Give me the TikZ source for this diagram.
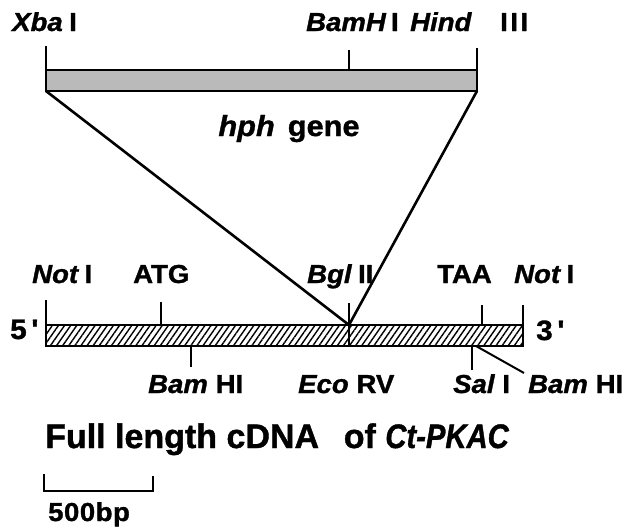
\documentclass[tikz,border=0pt]{standalone}
\usepackage{graphicx}
\usepackage{fontspec}
\setmainfont{Liberation Sans}
\newfontfamily\labfont{Liberation Sans}[FakeStretch=1.06, BoldFeatures={FakeBold=1.2}, BoldItalicFeatures={FakeBold=1.2}]
\newfontfamily\titlefont{Liberation Sans}[BoldFeatures={FakeBold=1.2}, BoldItalicFeatures={FakeBold=1.2}]
\usetikzlibrary{patterns.meta}
\begin{document}
\begin{tikzpicture}[x=1pt,y=-1pt,
  lab/.style={font=\labfont\fontsize{26}{26}\selectfont\bfseries, inner sep=0pt, anchor=base west},
  ttl/.style={font=\titlefont\fontsize{34}{34}\selectfont\bfseries, inner sep=0pt, anchor=base west},
  ln/.style={line width=2pt},
  diag/.style={line width=2.6pt},
  hphbar/.style={line width=2pt, fill=black!27},
  cdnabar/.style={line width=2pt, pattern={Lines[angle=55,distance=5pt,line width=1.4pt]}},
]
\useasboundingbox (0,0) rectangle (643,531);

% ---- hph gene bar ----
\coordinate (hTL) at (46,70);
\coordinate (hBR) at (477,91);
\coordinate (hBL) at (46,91);
\draw[hphbar] (hTL) rectangle (hBR);
\coordinate (xbaTop) at (46,46);
\coordinate (bamhTop) at (349,50);
\coordinate (bamhBar) at (349,70);
\coordinate (hindTop) at (477,48);
\coordinate (hindBar) at (477,70);
\draw[ln] (xbaTop) -- (hTL);
\draw[ln] (bamhTop) -- (bamhBar);
\draw[ln] (hindTop) -- (hindBar);

% ---- cDNA bar ----
\coordinate (cTL) at (46,325);
\coordinate (cBR) at (523,346);
\draw[cdnabar] (cTL) rectangle (cBR);
\coordinate (notLTop) at (46,300);
\coordinate (atgTop) at (161,302);
\coordinate (atgBar) at (161,325);
\coordinate (bglTop) at (349,303);
\coordinate (bglBar) at (349,325);
\coordinate (ecoBot) at (349,346);
\coordinate (taaTop) at (482,305);
\coordinate (taaBar) at (482,325);
\coordinate (notRTop) at (523,305);
\coordinate (notRBar) at (523,325);
\coordinate (bamBar) at (191,346);
\coordinate (bamBot) at (191,367);
\coordinate (salBar) at (472,346);
\coordinate (salBot) at (472,370);
\coordinate (bam2Bar) at (476,346);
\coordinate (bam2End) at (524,373);
\draw[ln] (notLTop) -- (cTL);
\draw[ln] (atgTop) -- (atgBar);
\draw[ln] (bglTop) -- (ecoBot);
\draw[ln] (taaTop) -- (taaBar);
\draw[ln] (notRTop) -- (notRBar);
\draw[ln] (bamBar) -- (bamBot);
\draw[ln] (salBar) -- (salBot);
\draw[ln] (bam2Bar) -- (bam2End);

% ---- insertion lines ----
\draw[diag] (hBL) -- (bglBar);
\draw[diag] (hindBar |- hBL) -- (bglBar);

% ---- labels: top ----
\node[lab] (xba) at (12,31) {{\itshape Xba}\hspace{0.25em}I};
\node[lab] (bamh) at (306,31) {{\itshape BamH}\hspace{0.2em}I};
\node[lab] (hind) at (410,31) {{\itshape Hind}};
\node[lab] (three3) at (500,31) {I\hspace{2.5pt}I\hspace{2.5pt}I};
\node[lab, anchor=base, font=\labfont\fontsize{29}{29}\selectfont\bfseries] (hph) at (289,136) {{\itshape hph}\hspace{0.45em}gene};

% ---- labels: cDNA row ----
\node[lab] (notL) at (32,283) {{\itshape Not}\hspace{0.25em}I};
\node[lab] (atg) at (133,283) {ATG};
\node[lab] (bgl) at (307,283) {{\itshape Bgl}\hspace{0.25em}II};
\node[lab] (taa) at (437,283) {TAA};
\node[lab] (notR) at (514,283) {{\itshape Not}\hspace{0.25em}I};
\node[lab, font=\labfont\fontsize{28}{28}\selectfont\bfseries] (five) at (10,339) {5\,'};
\node[lab, font=\labfont\fontsize{28}{28}\selectfont\bfseries] (three) at (536,340) {3\,'};

% ---- labels: below ----
\node[lab] (bam1) at (148,393) {{\itshape Bam}\hspace{0.3em}HI};
\node[lab] (eco) at (298,393) {{\itshape Eco}\hspace{0.3em}RV};
\node[lab] (sal) at (453,393) {{\itshape Sal}\hspace{0.3em}I};
\node[lab] (bam2) at (528,393) {{\itshape Bam}\hspace{0.3em}HI};

% ---- title ----
\node[ttl] (title) at (45,448) {Full length cDNA\hspace{0.45em} of {\itshape\scalebox{0.86}[1]{Ct-PKAC}}};

% ---- scale bar ----
\coordinate (sb1) at (44,474);
\coordinate (sb2) at (44,491);
\coordinate (sb3) at (153,491);
\coordinate (sb4) at (153,476);
\draw[ln] (sb1) -- (sb2) -- (sb3) -- (sb4);
\node[lab, font=\labfont\fontsize{26}{26}\selectfont\bfseries\addfontfeature{LetterSpace=2}] (bp) at (48,521) {500bp};
\end{tikzpicture}
\end{document}
